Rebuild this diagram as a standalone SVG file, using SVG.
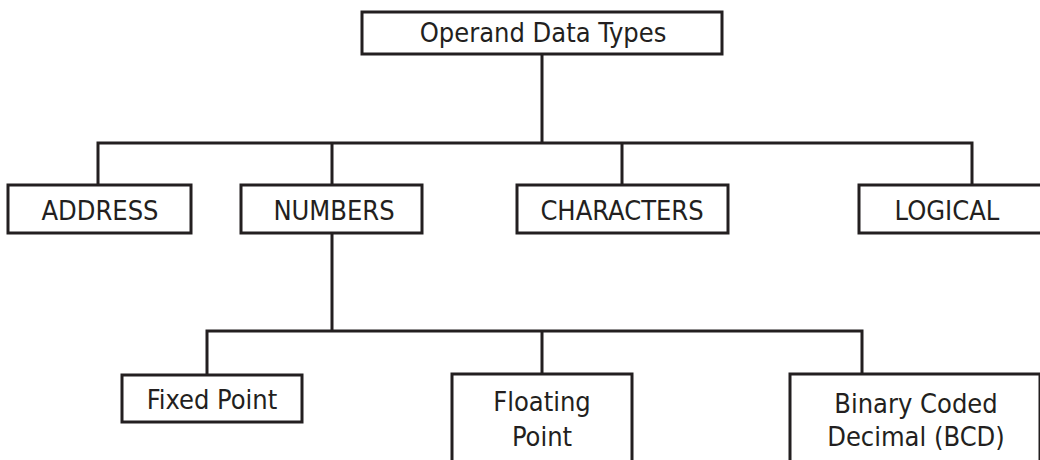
<svg xmlns="http://www.w3.org/2000/svg" width="1040" height="460" viewBox="0 0 1040 460">
<style>
.box{fill:#fff;stroke:#231f20;stroke-width:3}
.con{fill:none;stroke:#231f20;stroke-width:3;stroke-linecap:square}
text{font-family:"DejaVu Sans Condensed","DejaVu Sans",sans-serif;font-stretch:condensed;font-size:27px;fill:#231f20;text-anchor:middle}
</style>
<rect width="1040" height="460" fill="#fff"/>
<g id="connectors">
<path class="con" d="M542,54 V143 M98,143 H972 M98,143 V185 M332,143 V185 M622,143 V185 M972,143 V185"/>
<path class="con" d="M332,233 V331 M207,331 H862 M207,331 V375 M542,331 V374 M862,331 V374"/>
</g>
<g id="root"><rect class="box" x="362" y="12" width="360" height="42"/><text x="543" y="42">Operand Data Types</text></g>
<g id="address"><rect class="box" x="8" y="185" width="183" height="48"/><text x="100" y="220">ADDRESS</text></g>
<g id="numbers"><rect class="box" x="241" y="185" width="181" height="48"/><text x="334" y="220">NUMBERS</text></g>
<g id="characters"><rect class="box" x="517" y="185" width="211" height="48"/><text x="622" y="220">CHARACTERS</text></g>
<g id="logical"><rect class="box" x="859" y="185" width="200" height="48"/><text x="947" y="220">LOGICAL</text></g>
<g id="fixed"><rect class="box" x="122" y="375" width="180" height="47"/><text x="212" y="409">Fixed Point</text></g>
<g id="floating"><rect class="box" x="452" y="374" width="180" height="100"/><text x="542" y="411">Floating</text><text x="542" y="446">Point</text></g>
<g id="bcd"><rect class="box" x="790" y="374" width="250" height="100"/><text x="916" y="413">Binary Coded</text><text x="916" y="446">Decimal (BCD)</text></g>
</svg>
